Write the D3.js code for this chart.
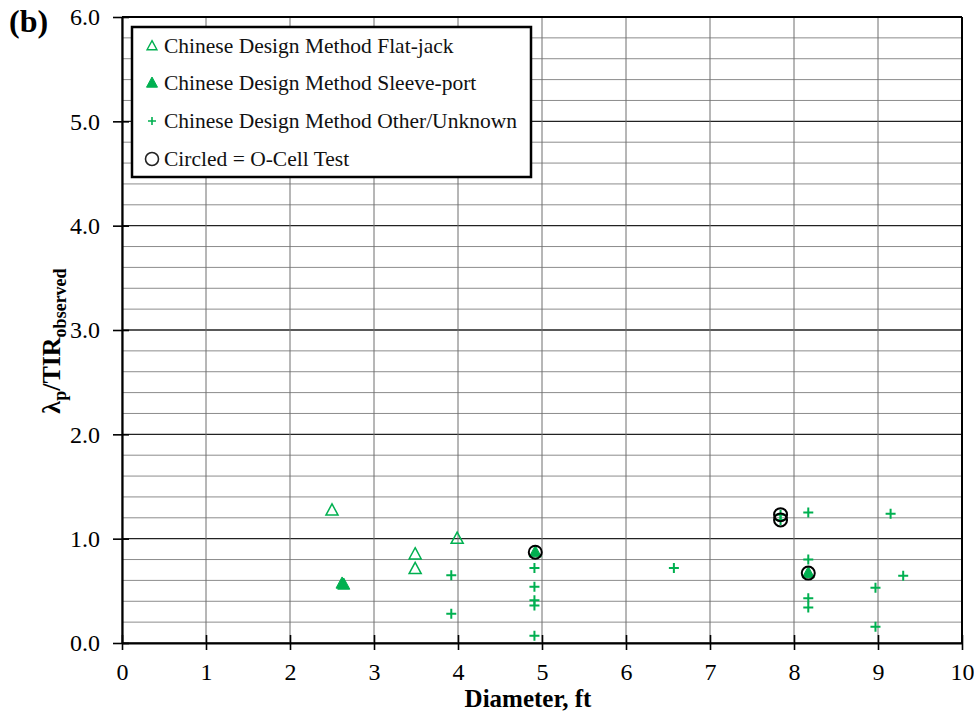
<!DOCTYPE html>
<html><head><meta charset="utf-8">
<script src="https://cdn.jsdelivr.net/npm/d3@7"></script>
<style>body{margin:0;background:#fff;} svg{display:block;}</style>
</head><body>
<script>
// Data
const flatJackX = [2.5, 3.49, 3.49, 3.99];
const flatJackY = [1.27, 0.85, 0.71, 1.00];
const sleeveX = [2.62, 2.64, 4.92, 8.17];
const sleeveY = [0.57, 0.56, 0.87, 0.67];
const otherX = [3.92, 3.92, 4.91, 4.91, 4.91, 4.91, 4.91, 6.57, 7.84, 7.84, 8.17, 8.17, 8.17, 8.17, 9.15, 9.30, 8.97, 8.97];
const otherY = [0.65, 0.28, 0.72, 0.54, 0.41, 0.36, 0.07, 0.72, 1.23, 1.18, 1.25, 0.80, 0.43, 0.34, 1.24, 0.645, 0.53, 0.156];
const ocellX = [4.92, 7.84, 7.84, 8.17];
const ocellY = [0.87, 1.23, 1.18, 0.67];
const xTicks = [0,1,2,3,4,5,6,7,8,9,10];
const yTicks = [0,1,2,3,4,5,6];
const legendLabels = ["Chinese Design Method Flat-jack","Chinese Design Method Sleeve-port","Chinese Design Method Other/Unknown","Circled = O-Cell Test"];

const W = 974, H = 711;
const green = "#00B050";
const font = "'Liberation Serif','Times New Roman',serif";
const svg = d3.select("body").append("svg").attr("width", W).attr("height", H);

const x = d3.scaleLinear().domain([0,10]).range([122, 962]);
const y = d3.scaleLinear().domain([0,6]).range([643, 17]);

// minor horizontal grid
const minor = d3.range(0, 6.0001, 0.2).map(v => +v.toFixed(1));
svg.append("g").selectAll("line").data(minor).join("line")
  .attr("x1", x(0)).attr("x2", x(10))
  .attr("y1", d => y(d)).attr("y2", d => y(d))
  .attr("stroke", d => Math.abs(d - Math.round(d)) < 1e-6 ? "#222" : "#8c8c8c")
  .attr("stroke-width", d => Math.abs(d - Math.round(d)) < 1e-6 ? 1.3 : 1);
// vertical grid
svg.append("g").selectAll("line").data(xTicks).join("line")
  .attr("x1", d => x(d)).attr("x2", d => x(d))
  .attr("y1", y(0)).attr("y2", y(6))
  .attr("stroke", "#6e6e6e").attr("stroke-width", 1);

// frame top/right
svg.append("line").attr("x1", x(0)).attr("x2", x(10)).attr("y1", y(6)).attr("y2", y(6)).attr("stroke","#000").attr("stroke-width",2);
svg.append("line").attr("x1", x(10)).attr("x2", x(10)).attr("y1", y(0)).attr("y2", y(6)).attr("stroke","#000").attr("stroke-width",2);

// axes
const xAxis = d3.axisBottom(x).tickValues(xTicks).tickFormat(d3.format("d")).tickSize(6).tickSizeOuter(0);
const gx = svg.append("g").attr("transform", `translate(0,${y(0)})`).call(xAxis);
gx.select(".domain").attr("stroke","#000").attr("stroke-width",2.2);
gx.selectAll(".tick line").attr("stroke","#000").attr("stroke-width",1.6).attr("y1",-8).attr("y2",7);
gx.selectAll(".tick text").attr("font-family", font).attr("font-size", 24).attr("fill","#000").attr("y",37).attr("dy",0);

const yAxis = d3.axisLeft(y).tickValues(yTicks).tickFormat(d3.format(".1f")).tickSize(6).tickSizeOuter(0);
const gy = svg.append("g").attr("transform", `translate(${x(0)},0)`).call(yAxis);
gy.select(".domain").attr("stroke","#000").attr("stroke-width",2.2);
gy.selectAll(".tick line").attr("stroke","#000").attr("stroke-width",1.6).attr("x1",7).attr("x2",-9);
gy.selectAll(".tick text").attr("font-family", font).attr("font-size", 24).attr("fill","#000").attr("x",-22).attr("dy","0.33em");

// axis titles
svg.append("text").attr("x", 528).attr("y", 707).attr("text-anchor","middle")
  .attr("font-family", font).attr("font-size", 25).attr("font-weight","bold").text("Diameter, ft");
const yt = svg.append("text").attr("transform", `translate(60,${341}) rotate(-90)`)
  .attr("text-anchor","middle").attr("font-family", font).attr("font-size", 26).attr("font-weight","bold");
yt.append("tspan").text("λ");
yt.append("tspan").attr("font-size", 18).attr("dy", 6).text("p");
yt.append("tspan").attr("dy", -6).text("/TIR");
yt.append("tspan").attr("font-size", 18).attr("dy", 6).text("observed");

svg.append("text").attr("x", 9).attr("y", 32).attr("font-family", font).attr("font-size", 32).attr("font-weight","bold").text("(b)");

// markers
const triUp = (cx, cy, s) => `M${cx},${cy-s*0.6}L${cx+s*0.55},${cy+s*0.42}L${cx-s*0.55},${cy+s*0.42}Z`;
const plus = (cx, cy, s) => `M${cx-s/2},${cy}H${cx+s/2}M${cx},${cy-s/2}V${cy+s/2}`;

const gData = svg.append("g");
gData.selectAll(".fj").data(d3.zip(flatJackX, flatJackY)).join("path")
  .attr("d", d => triUp(x(d[0]), y(d[1]), 11)).attr("fill","none").attr("stroke",green).attr("stroke-width",1.5);
gData.selectAll(".sp").data(d3.zip(sleeveX, sleeveY)).join("path")
  .attr("d", d => triUp(x(d[0]), y(d[1]), 11)).attr("fill",green).attr("stroke",green).attr("stroke-width",1);
gData.selectAll(".ot").data(d3.zip(otherX, otherY)).join("path")
  .attr("d", d => plus(x(d[0]), y(d[1]), 10)).attr("fill","none").attr("stroke",green).attr("stroke-width",2);
gData.selectAll(".oc").data(d3.zip(ocellX, ocellY)).join("circle")
  .attr("cx", d => x(d[0])).attr("cy", d => y(d[1])).attr("r", 6.5)
  .attr("fill","none").attr("stroke","#000").attr("stroke-width",2);

// legend
const lg = svg.append("g");
lg.append("rect").attr("x", 132).attr("y", 27).attr("width", 399).attr("height", 150)
  .attr("fill","#fff").attr("stroke","#000").attr("stroke-width",2.5);
const lyBase = [53, 90, 128, 166];
legendLabels.forEach((t, i) => {
  const mx = 152, my = lyBase[i] - 7;
  if (i === 0) lg.append("path").attr("d", triUp(mx, my, 9)).attr("fill","none").attr("stroke",green).attr("stroke-width",1.4);
  if (i === 1) lg.append("path").attr("d", triUp(mx, my, 10)).attr("fill",green).attr("stroke",green);
  if (i === 2) lg.append("path").attr("d", plus(mx, my, 8)).attr("stroke",green).attr("stroke-width",1.6);
  if (i === 3) lg.append("circle").attr("cx", mx).attr("cy", my).attr("r", 6.5).attr("fill","none").attr("stroke","#222").attr("stroke-width",1.6);
  lg.append("text").attr("x", 164).attr("y", lyBase[i]).attr("font-family", font).attr("font-size", 21.5).attr("fill","#111").text(t);
});
</script>
</body></html>
